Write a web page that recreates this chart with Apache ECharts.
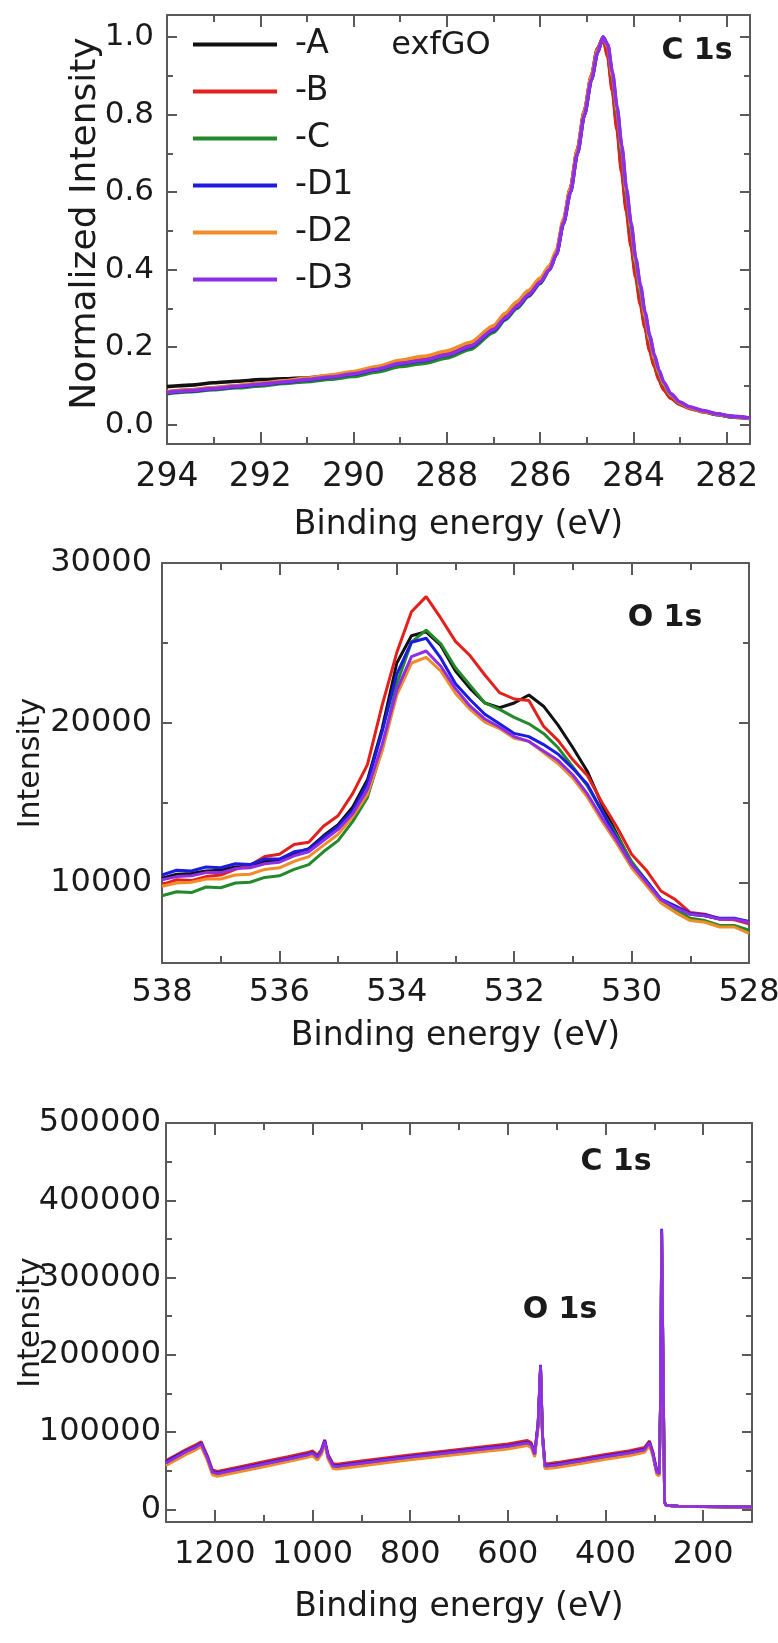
<!DOCTYPE html>
<html><head><meta charset="utf-8">
<script src="https://cdn.jsdelivr.net/npm/echarts@6/dist/echarts.min.js"></script>
<style>html,body{margin:0;padding:0;background:#fff}#c{width:778px;height:1643px}</style>
</head><body><div id="c"></div>
<script>
// ---------- shared ----------
const SERIES_NAMES = ['-A', '-B', '-C', '-D1', '-D2', '-D3'];
const SERIES_COLORS = ['#111111', '#e3201c', '#23892a', '#1c1ce0', '#f28c28', '#8e2ee6'];

// ---------- panel 1 : C 1s (normalized) ----------
const C1S_BE = [294, 293.5, 293, 292.5, 292, 291.5, 291, 290.5, 290, 289.5, 289, 288.5, 288, 287.5, 287, 286.75, 286.5, 286.25, 286, 285.8, 285.65, 285.5, 285.35, 285.2, 285.05, 284.9, 284.77, 284.65, 284.55, 284.45, 284.35, 284.25, 284.15, 284.05, 283.95, 283.85, 283.75, 283.65, 283.55, 283.45, 283.35, 283.2, 283.0, 282.8, 282.5, 282.2, 281.9, 281.5];
const C1S_A  = [0.098,0.102,0.108,0.112,0.116,0.118,0.121,0.126,0.133,0.145,0.160,0.168,0.182,0.204,0.248,0.278,0.308,0.338,0.372,0.405,0.445,0.525,0.61,0.71,0.81,0.90,0.97,0.998,0.955,0.87,0.77,0.66,0.56,0.47,0.39,0.32,0.255,0.195,0.153,0.118,0.092,0.07,0.053,0.043,0.034,0.026,0.021,0.017];
const C1S_B  = [0.085,0.090,0.095,0.100,0.106,0.112,0.118,0.125,0.133,0.145,0.160,0.168,0.182,0.204,0.248,0.278,0.308,0.338,0.372,0.405,0.445,0.525,0.61,0.71,0.81,0.90,0.97,0.998,0.95,0.86,0.76,0.65,0.55,0.46,0.38,0.31,0.25,0.19,0.15,0.115,0.09,0.068,0.052,0.042,0.033,0.026,0.020,0.016];
const C1S_C  = [0.080,0.085,0.090,0.095,0.100,0.106,0.111,0.117,0.124,0.136,0.150,0.158,0.172,0.194,0.238,0.270,0.300,0.331,0.364,0.40,0.44,0.52,0.60,0.70,0.80,0.89,0.96,1.0,0.975,0.895,0.80,0.70,0.59,0.50,0.41,0.34,0.275,0.215,0.168,0.13,0.102,0.075,0.055,0.044,0.034,0.026,0.020,0.016];
const C1S_D1 = [0.082,0.087,0.092,0.098,0.103,0.109,0.115,0.122,0.130,0.142,0.157,0.165,0.179,0.200,0.243,0.273,0.303,0.333,0.366,0.40,0.44,0.52,0.60,0.70,0.80,0.89,0.96,1.0,0.98,0.905,0.815,0.715,0.605,0.515,0.425,0.355,0.285,0.225,0.176,0.137,0.108,0.079,0.057,0.045,0.035,0.027,0.021,0.016];
const C1S_D2 = [0.084,0.089,0.095,0.101,0.107,0.113,0.120,0.128,0.137,0.150,0.166,0.176,0.190,0.212,0.255,0.287,0.317,0.346,0.378,0.41,0.45,0.53,0.61,0.71,0.81,0.90,0.965,1.0,0.975,0.90,0.81,0.71,0.60,0.51,0.42,0.35,0.28,0.22,0.172,0.134,0.105,0.077,0.056,0.044,0.034,0.027,0.021,0.016];
const C1S_D3 = [0.083,0.088,0.093,0.099,0.104,0.110,0.116,0.123,0.131,0.143,0.158,0.166,0.180,0.202,0.245,0.275,0.305,0.335,0.368,0.40,0.44,0.52,0.60,0.70,0.80,0.89,0.96,1.0,0.98,0.91,0.82,0.72,0.61,0.52,0.43,0.36,0.29,0.23,0.18,0.14,0.11,0.08,0.058,0.046,0.036,0.028,0.022,0.017];
const C1S_X_LABELS = [282, 284, 286, 288, 290, 292, 294];
const C1S_X_MINOR = [283, 285, 287, 289, 291, 293];
const C1S_Y_LABELS = [0, 0.2, 0.4, 0.6, 0.8, 1.0];
const C1S_Y_MINOR = [0.1, 0.3, 0.5, 0.7, 0.9];

// ---------- panel 2 : O 1s ----------
const O1S_BE = [538, 537.75, 537.5, 537.25, 537, 536.75, 536.5, 536.25, 536, 535.75, 535.5, 535.25, 535, 534.75, 534.5, 534.25, 534, 533.75, 533.5, 533.25, 533, 532.75, 532.5, 532.25, 532, 531.75, 531.5, 531.25, 531, 530.75, 530.5, 530.25, 530, 529.75, 529.5, 529.25, 529, 528.75, 528.5, 528.25, 528];
const O1S_A  = [10300,10550,10600,10750,10800,11000,11050,11350,11450,11850,12150,12950,13650,14750,16450,19650,23750,25450,25700,24850,23250,22150,21250,20950,21250,21750,21050,19850,18450,16950,14850,13050,11250,10150,8950,8450,8050,7950,7750,7750,7550];
const O1S_B  = [9900,10200,10150,10400,10500,10850,11100,11650,11800,12400,12550,13550,14200,15600,17400,21100,24400,26950,27900,26550,25100,24200,23000,21900,21500,21400,19800,18900,17700,16700,15000,13500,11800,10800,9500,8950,8150,8050,7750,7700,7450];
const O1S_C  = [9200,9450,9400,9750,9700,10000,10050,10350,10450,10850,11150,11950,12650,13850,15350,18350,22450,25050,25800,24950,23450,22350,21250,20850,20350,19950,19350,18450,17250,16050,14450,12950,11350,10150,8950,8350,7800,7650,7350,7350,7050];
const O1S_D1 = [10500,10800,10750,11000,10950,11200,11150,11500,11500,11950,12100,12850,13550,14550,16250,19450,23050,25050,25300,24050,22450,21450,20550,19950,19350,19150,18650,18050,17150,16150,14450,12750,11150,10150,9000,8550,8100,8000,7800,7800,7600];
const O1S_D2 = [9800,10000,10050,10250,10250,10500,10550,10850,10950,11350,11650,12350,13050,14150,15550,18250,21750,23750,24100,23250,21850,20850,20050,19650,19050,18850,18150,17450,16550,15350,13850,12450,10950,9850,8750,8150,7650,7550,7250,7250,6850];
const O1S_D3 = [10200,10400,10450,10650,10650,10900,10950,11200,11300,11700,11950,12650,13350,14350,15850,18650,22050,24150,24500,23550,22150,21050,20250,19750,19150,18850,18250,17650,16750,15550,14050,12650,11150,10050,8950,8450,8050,7950,7750,7750,7550];
const O1S_X_LABELS = [528, 530, 532, 534, 536, 538];
const O1S_X_MINOR = [529, 531, 533, 535, 537];
const O1S_Y_LABELS = [10000, 20000, 30000];
const O1S_Y_MINOR = [15000, 25000];

// ---------- panel 3 : survey ----------
const SUR_BE = [1300,1280,1260,1240,1228,1215,1205,1195,1150,1100,1050,1010,1000,990,982,975,968,958,950,900,850,800,750,700,650,600,560,552,545,538,533,529,524,515,500,450,400,350,320,310,303,295,290,287,285,282,279,276,250,200,150,100];
const SUR_A  = [59000,66000,73000,79000,83500,65000,47000,45500,51500,58000,64500,70000,72000,66500,73000,87000,67500,55500,55000,59000,63000,67000,70500,74000,77500,81000,85500,82500,70500,109000,185000,94000,55000,55000,56000,61000,66500,71500,75500,85000,71000,47000,45000,149000,360000,179000,8900,4900,3700,3300,2900,2700];
const SUR_B  = [63000,70000,77000,83000,87500,69000,51000,49000,55000,61500,68000,73500,75500,70000,77000,90000,71000,59000,58500,62500,66500,70500,74000,77500,81000,84500,89000,86000,74000,112000,185000,97000,59000,59500,60500,65500,71000,76000,80000,88500,74500,50500,48500,149000,358000,178000,9500,5200,4000,3500,3100,2900];
const SUR_C  = [58500,65500,72500,78500,83000,64500,46500,45000,51000,57500,64000,69500,71500,66000,72500,86500,67000,55000,54500,58500,62500,66500,70000,73500,77000,80500,85000,82000,70000,108000,184000,93000,54500,54500,55500,60500,66000,71000,75000,84500,70500,46500,44500,149000,359000,178000,8800,4900,3700,3300,2900,2700];
const SUR_D1 = [61500,68500,75000,81000,85500,67000,49000,47000,53000,59500,66000,71500,73500,68000,75000,89000,69000,57000,56500,60500,64500,68500,72000,75500,79000,82500,87000,84000,72000,111000,187000,96000,57000,57500,58500,63500,69000,74000,78000,87000,73000,49000,47000,151000,363000,181000,9200,5100,3900,3500,3100,2900];
const SUR_D2 = [56500,63500,70500,76500,81000,62500,44500,42500,48500,55000,61500,67000,69000,63500,70500,84500,64500,52500,52000,56000,60000,64000,67500,71000,74500,78000,82500,79500,67500,106000,183000,91500,52500,53000,54000,59000,64500,69500,73500,82500,69000,45000,43000,147000,356000,176000,8500,4800,3600,3200,2800,2600];
const SUR_D3 = [60000,67000,74000,80000,84500,66000,48000,46000,52000,58500,65000,70500,72500,67000,74000,88000,68000,56000,55500,59500,63500,67500,71000,74500,78000,81500,86000,83000,71000,110000,186000,95000,56000,56500,57500,62500,68000,73000,77000,86000,72000,48000,46000,150000,362000,180000,9000,5000,3800,3400,3000,2800];
const SUR_X_LABELS = [200, 400, 600, 800, 1000, 1200];
const SUR_X_MINOR = [300, 500, 700, 900, 1100];
const SUR_Y_LABELS = [0, 100000, 200000, 300000, 400000, 500000];
const SUR_Y_MINOR = [50000, 150000, 250000, 350000, 450000];

// ---------- building ----------
const FONT = 'DejaVu Sans';
const AXC = '#5a5a5a';
const TXT = '#1a1a1a';

function zipXY(xs, ys) { return xs.map((x, i) => [x, ys[i]]); }

function xAxesFor(gi, min, max, major, minor, labels, o) {
  const base = { type: 'value', gridIndex: gi, min: min, max: max, inverse: true, splitLine: { show: false } };
  const tickStyle = { color: AXC, width: 2 };
  return [
    Object.assign({}, base, {
      position: 'bottom',
      axisLine: { show: true, onZero: false, lineStyle: { color: AXC, width: 2 } },
      axisTick: { show: true, inside: true, length: 12, customValues: major, lineStyle: tickStyle },
      axisLabel: { show: true, customValues: labels, fontSize: o.fs, fontFamily: FONT, color: TXT, margin: o.margin, formatter: v => String(v) },
      name: 'Binding energy (eV)', nameLocation: 'middle', nameGap: o.nameGap, nameMoveOverlap: false,
      nameTextStyle: { fontSize: o.nameFs, fontFamily: FONT, color: TXT }
    }),
    Object.assign({}, base, {
      position: 'bottom', axisLine: { show: false, onZero: false },
      axisTick: { show: true, inside: true, length: 7, customValues: minor, lineStyle: tickStyle },
      axisLabel: { show: false }
    }),
    Object.assign({}, base, {
      position: 'top',
      axisLine: { show: true, onZero: false, lineStyle: { color: AXC, width: 2 } },
      axisTick: { show: true, inside: true, length: 12, customValues: major, lineStyle: tickStyle },
      axisLabel: { show: false }
    }),
    Object.assign({}, base, {
      position: 'top', axisLine: { show: false, onZero: false },
      axisTick: { show: true, inside: true, length: 7, customValues: minor, lineStyle: tickStyle },
      axisLabel: { show: false }
    })
  ];
}

function yAxesFor(gi, min, max, major, minor, o) {
  const base = { type: 'value', gridIndex: gi, min: min, max: max, splitLine: { show: false } };
  const tickStyle = { color: AXC, width: 2 };
  return [
    Object.assign({}, base, {
      position: 'left',
      axisLine: { show: true, onZero: false, lineStyle: { color: AXC, width: 2 } },
      axisTick: { show: true, inside: true, length: 10, customValues: major, lineStyle: tickStyle },
      axisLabel: { show: true, customValues: major, fontSize: o.fs, fontFamily: FONT, color: TXT, margin: o.margin, formatter: o.fmt },
      name: o.name, nameLocation: 'middle', nameGap: o.nameGap, nameMoveOverlap: false,
      nameTextStyle: { fontSize: o.nameFs, fontFamily: FONT, color: TXT, padding: o.namePad || 0 }
    }),
    Object.assign({}, base, {
      position: 'left', axisLine: { show: false, onZero: false },
      axisTick: { show: true, inside: true, length: 6, customValues: minor, lineStyle: tickStyle },
      axisLabel: { show: false }
    }),
    Object.assign({}, base, {
      position: 'right',
      axisLine: { show: true, onZero: false, lineStyle: { color: AXC, width: 2 } },
      axisTick: { show: true, inside: true, length: 10, customValues: major, lineStyle: tickStyle },
      axisLabel: { show: false }
    }),
    Object.assign({}, base, {
      position: 'right', axisLine: { show: false, onZero: false },
      axisTick: { show: true, inside: true, length: 6, customValues: minor, lineStyle: tickStyle },
      axisLabel: { show: false }
    })
  ];
}

const panels = [
  { be: C1S_BE, ys: [C1S_A, C1S_B, C1S_C, C1S_D1, C1S_D2, C1S_D3], width: 3.6, smooth: 0.25 },
  { be: O1S_BE, ys: [O1S_A, O1S_B, O1S_C, O1S_D1, O1S_D2, O1S_D3], width: 3, smooth: false },
  { be: SUR_BE, ys: [SUR_A, SUR_B, SUR_C, SUR_D1, SUR_D2, SUR_D3], width: 2.8, smooth: false }
];

const series = [];
panels.forEach((p, gi) => {
  p.ys.forEach((ys, si) => {
    series.push({
      type: 'line', name: SERIES_NAMES[si],
      xAxisIndex: gi * 4, yAxisIndex: gi * 4,
      data: zipXY(p.be, ys),
      showSymbol: false, symbol: 'none', smooth: p.smooth, smoothMonotone: 'x',
      lineStyle: { color: SERIES_COLORS[si], width: p.width },
      itemStyle: { color: SERIES_COLORS[si] },
      z: 2 + si
    });
  });
});

const xAxis = [].concat(
  xAxesFor(0, 281.5, 294, C1S_X_LABELS, C1S_X_MINOR, C1S_X_LABELS, { fs: 33, margin: 17, nameGap: 65, nameFs: 33 }),
  xAxesFor(1, 528, 538, O1S_X_LABELS, O1S_X_MINOR, O1S_X_LABELS, { fs: 32, margin: 14, nameGap: 57, nameFs: 33 }),
  xAxesFor(2, 100, 1300, SUR_X_LABELS, SUR_X_MINOR, SUR_X_LABELS, { fs: 32, margin: 17, nameGap: 69, nameFs: 33 })
);
const yAxis = [].concat(
  yAxesFor(0, -0.05, 1.057, C1S_Y_LABELS, C1S_Y_MINOR, { fs: 31, margin: 13, fmt: v => v.toFixed(1), name: 'Normalized Intensity', nameGap: 63, nameFs: 36, namePad: [0, 0, 0, 12] }),
  yAxesFor(1, 5000, 30000, O1S_Y_LABELS, O1S_Y_MINOR, { fs: 32, margin: 10, fmt: v => String(v), name: 'Intensity', nameGap: 116, nameFs: 30 }),
  yAxesFor(2, -16500, 500000, SUR_Y_LABELS, SUR_Y_MINOR, { fs: 32, margin: 5, fmt: v => String(v), name: 'Intensity', nameGap: 120, nameFs: 30 })
);

const chart = echarts.init(document.getElementById('c'), null, { renderer: 'canvas' });
chart.setOption({
  animation: false,
  backgroundColor: '#ffffff',
  grid: [
    { left: 167, top: 15, width: 583, height: 429, outerBoundsMode: 'none' },
    { left: 162, top: 563, width: 587, height: 400, outerBoundsMode: 'none' },
    { left: 166, top: 1123, width: 586, height: 399, outerBoundsMode: 'none' }
  ],
  xAxis: xAxis,
  yAxis: yAxis,
  legend: {
    orient: 'vertical', left: 193, top: 27, padding: 0, itemWidth: 84, itemHeight: 4, itemGap: 12,
    icon: 'rect', data: SERIES_NAMES, selectedMode: false,
    textStyle: { fontSize: 33, fontFamily: FONT, color: TXT, lineHeight: 35, padding: [0, 0, 0, 13] }
  },
  graphic: [
    { type: 'text', x: 441, y: 46, style: { text: 'exfGO', font: '32px "DejaVu Sans"', fill: TXT, align: 'center', verticalAlign: 'middle' } },
    { type: 'text', x: 697, y: 51, style: { text: 'C 1s', font: 'bold 30px "DejaVu Sans"', fill: TXT, align: 'center', verticalAlign: 'middle' } },
    { type: 'text', x: 665, y: 618, style: { text: 'O 1s', font: 'bold 30px "DejaVu Sans"', fill: TXT, align: 'center', verticalAlign: 'middle' } },
    { type: 'text', x: 616, y: 1162, style: { text: 'C 1s', font: 'bold 30px "DejaVu Sans"', fill: TXT, align: 'center', verticalAlign: 'middle' } },
    { type: 'text', x: 560, y: 1310, style: { text: 'O 1s', font: 'bold 30px "DejaVu Sans"', fill: TXT, align: 'center', verticalAlign: 'middle' } }
  ],
  series: series
});
</script>
</body></html>
